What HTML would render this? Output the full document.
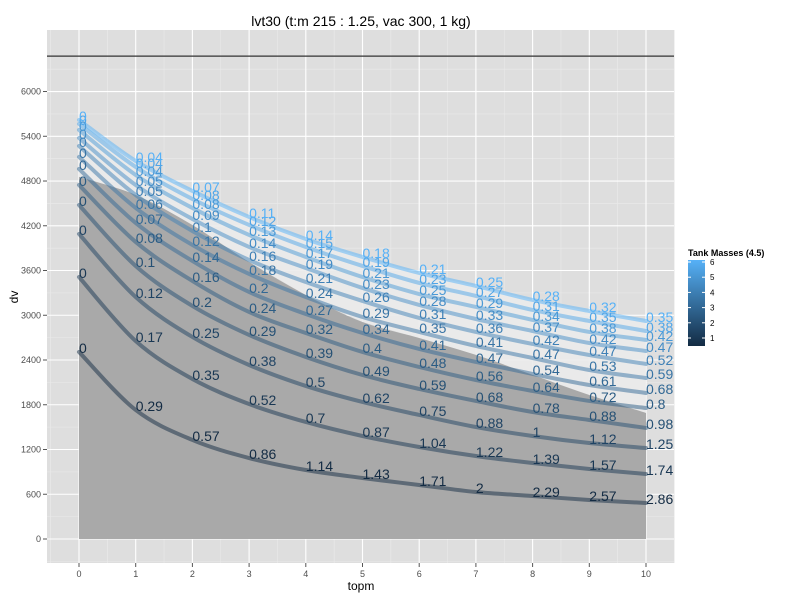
<!DOCTYPE html>
<html><head><meta charset="utf-8"><style>
body{margin:0;background:#fff;}
svg text{font-family:"Liberation Sans",sans-serif;}
</style></head><body>
<svg id="chart" width="800" height="600" xmlns="http://www.w3.org/2000/svg"></svg>
<script>
const topm=[0,1,2,3,4,5,6,7,8,9,10];
const masses=[0.5,1,1.5,2,2.5,3,3.5,4,4.5,5,5.5,6];
const dvSeries=[
[2508,1730,1328,1086,925,818,724,630,577,523,483],
[3513,2655,2146,1810,1569,1381,1234,1113,1019,939,872],
[4090,3245,2709,2333,2052,1837,1663,1502,1381,1287,1220],
[4479,3661,3125,2736,2441,2199,2012,1851,1703,1596,1489],
[4747,3983,3460,3044,2762,2508,2307,2132,1985,1851,1757],
[4962,4238,3728,3312,3017,2762,2548,2374,2213,2065,1958],
[5123,4439,3943,3554,3245,2977,2776,2588,2427,2266,2159],
[5270,4613,4130,3741,3446,3192,2964,2776,2615,2467,2347],
[5377,4747,4291,3916,3634,3366,3138,2950,2789,2628,2521],
[5485,4881,4439,4077,3782,3513,3285,3111,2937,2776,2669],
[5565,4989,4559,4211,3916,3661,3433,3259,3071,2923,2789],
[5619,5069,4667,4318,4023,3782,3567,3393,3205,3057,2923]];
const ratioLabels=[
["0","0.29","0.57","0.86","1.14","1.43","1.71","2","2.29","2.57","2.86"],
["0","0.17","0.35","0.52","0.7","0.87","1.04","1.22","1.39","1.57","1.74"],
["0","0.12","0.25","0.38","0.5","0.62","0.75","0.88","1","1.12","1.25"],
["0","0.1","0.2","0.29","0.39","0.49","0.59","0.68","0.78","0.88","0.98"],
["0","0.08","0.16","0.24","0.32","0.4","0.48","0.56","0.64","0.72","0.8"],
["0","0.07","0.14","0.2","0.27","0.34","0.41","0.47","0.54","0.61","0.68"],
["0","0.06","0.12","0.18","0.24","0.29","0.35","0.41","0.47","0.53","0.59"],
["0","0.05","0.1","0.16","0.21","0.26","0.31","0.36","0.42","0.47","0.52"],
["0","0.05","0.09","0.14","0.19","0.23","0.28","0.33","0.37","0.42","0.47"],
["0","0.04","0.08","0.13","0.17","0.21","0.25","0.29","0.34","0.38","0.42"],
["0","0.04","0.08","0.12","0.15","0.19","0.23","0.27","0.31","0.35","0.38"],
["0","0.04","0.07","0.11","0.14","0.18","0.21","0.25","0.28","0.32","0.35"]];
const grayEdge=[4855,4613,4211,3714,3272,2910,2695,2468,2200,1931,1690];
const hLine=6475;
const xTicks=[0,1,2,3,4,5,6,7,8,9,10];
const yTicks=[0,600,1200,1800,2400,3000,3600,4200,4800,5400,6000];
const legendTicks=[1,2,3,4,5,6];

const svg=document.getElementById('chart');
const NS="http://www.w3.org/2000/svg";
const X=v=>79+v*56.7;
const Y=v=>539-v*0.07458;
function mk(tag,attrs,parent){const e=document.createElementNS(NS,tag);for(const k in attrs)e.setAttribute(k,attrs[k]);(parent||svg).appendChild(e);return e;}
function lerpColor(t){const a=[0x13,0x2B,0x43],b=[0x56,0xB1,0xF7];return 'rgb('+a.map((c,i)=>Math.round(c+(b[i]-c)*t)).join(',')+')';}
const colorOf=m=>lerpColor((m-0.5)/5.5);
function smooth(pts){let d='M'+pts[0][0]+','+pts[0][1];for(let i=0;i<pts.length-1;i++){const p0=pts[Math.max(0,i-1)],p1=pts[i],p2=pts[i+1],p3=pts[Math.min(pts.length-1,i+2)];const c1=[p1[0]+(p2[0]-p0[0])/6,p1[1]+(p2[1]-p0[1])/6],c2=[p2[0]-(p3[0]-p1[0])/6,p2[1]-(p3[1]-p1[1])/6];d+=' C'+c1[0]+','+c1[1]+' '+c2[0]+','+c2[1]+' '+p2[0]+','+p2[1];}return d;}

const panel=mk('rect',{x:47,y:30,width:627,height:533,fill:'#dedede'});


const grid=mk('g',{});


for(let i=-1;i<xTicks.length;i++){mk('line',{x1:X(i+0.5),x2:X(i+0.5),y1:30,y2:563,stroke:'#eaeaea','stroke-width':0.6},grid);}
for(let i=-1;i<yTicks.length+1;i++){const v=i*600+300;const y=Y(v);if(y>30&&y<563)mk('line',{x1:47,x2:674,y1:y,y2:y,stroke:'#eaeaea','stroke-width':0.6},grid);}
xTicks.forEach(t=>mk('line',{x1:X(t),x2:X(t),y1:30,y2:563,stroke:'#fff','stroke-width':1.1},grid));
yTicks.forEach(t=>mk('line',{x1:47,x2:674,y1:Y(t),y2:Y(t),stroke:'#fff','stroke-width':1.1},grid));

const topCurve=dvSeries[dvSeries.length-1];
const lp=topm.map((x,i)=>[X(x),Y(topCurve[i])]);
const gp=topm.map((x,i)=>[X(x),Y(grayEdge[i])]);
const light=mk('path',{d:smooth(lp)+' L'+gp.slice().reverse().map(p=>p.join(',')).join(' L')+' Z',fill:'#ebebeb','fill-opacity':0.9});


const gray=mk('path',{d:smooth(gp)+' L'+X(10)+','+Y(0)+' L'+X(0)+','+Y(0)+' Z',fill:'#a9a9a9'});



const hl=mk('line',{x1:47,x2:674,y1:Y(hLine),y2:Y(hLine),stroke:'#333','stroke-width':1.2});



dvSeries.forEach((s,k)=>{
  const p=mk('path',{d:smooth(topm.map((x,i)=>[X(x),Y(s[i])])),fill:'none',stroke:colorOf(masses[k]),'stroke-width':4,'stroke-opacity':0.5,'stroke-linecap':'round'});
  
  
});
dvSeries.forEach((s,k)=>{
  const g=mk('g',{fill:colorOf(masses[k]),'font-size':14});
  
  
  topm.forEach((x,i)=>{const t=mk('text',{x:X(x),y:Y(s[i])+1},g);t.textContent=ratioLabels[k][i];});
});

const xa=mk('g',{fill:'#4d4d4d','font-size':9,'text-anchor':'middle'});


xTicks.forEach(t=>{mk('line',{x1:X(t),x2:X(t),y1:563,y2:567,stroke:'#555'},xa);const e=mk('text',{x:X(t),y:577},xa);e.textContent=t;});
const ya=mk('g',{fill:'#4d4d4d','font-size':9,'text-anchor':'end'});


yTicks.forEach(t=>{mk('line',{x1:43,x2:47,y1:Y(t),y2:Y(t),stroke:'#555'},ya);const e=mk('text',{x:41,y:Y(t)+3},ya);e.textContent=t;});
const xt=mk('text',{x:361,y:590,'font-size':12,'text-anchor':'middle',fill:'#000'});xt.textContent='topm';


const yt=mk('text',{x:18,y:297,'font-size':12,'text-anchor':'middle',fill:'#000',transform:'rotate(-90 18 297)'});yt.textContent='dv';


const ti=mk('text',{x:361,y:26,'font-size':14,'text-anchor':'middle',fill:'#000'});ti.textContent='lvt30 (t:m 215 : 1.25, vac 300, 1 kg)';



const lg=mk('g',{});


const lt=mk('text',{x:688,y:256,'font-size':9,'font-weight':'bold',fill:'#000'},lg);lt.textContent='Tank Masses (4.5)';
const defs=mk('defs',{});
const grad=mk('linearGradient',{id:'lgd',x1:0,y1:1,x2:0,y2:0},defs);
mk('stop',{offset:0,'stop-color':'#132B43'},grad);mk('stop',{offset:1,'stop-color':'#56B1F7'},grad);
const bar=mk('rect',{x:688,y:260,width:17,height:86,fill:'url(#lgd)'},lg);


const LY=v=>338-(v-1)/5*76;
legendTicks.forEach(t=>{mk('line',{x1:688,x2:691,y1:LY(t),y2:LY(t),stroke:'#fff'},lg);mk('line',{x1:702,x2:705,y1:LY(t),y2:LY(t),stroke:'#fff'},lg);const e=mk('text',{x:710,y:LY(t)+3,'font-size':8,fill:'#000'},lg);e.textContent=t;});
</script>
</body></html>
